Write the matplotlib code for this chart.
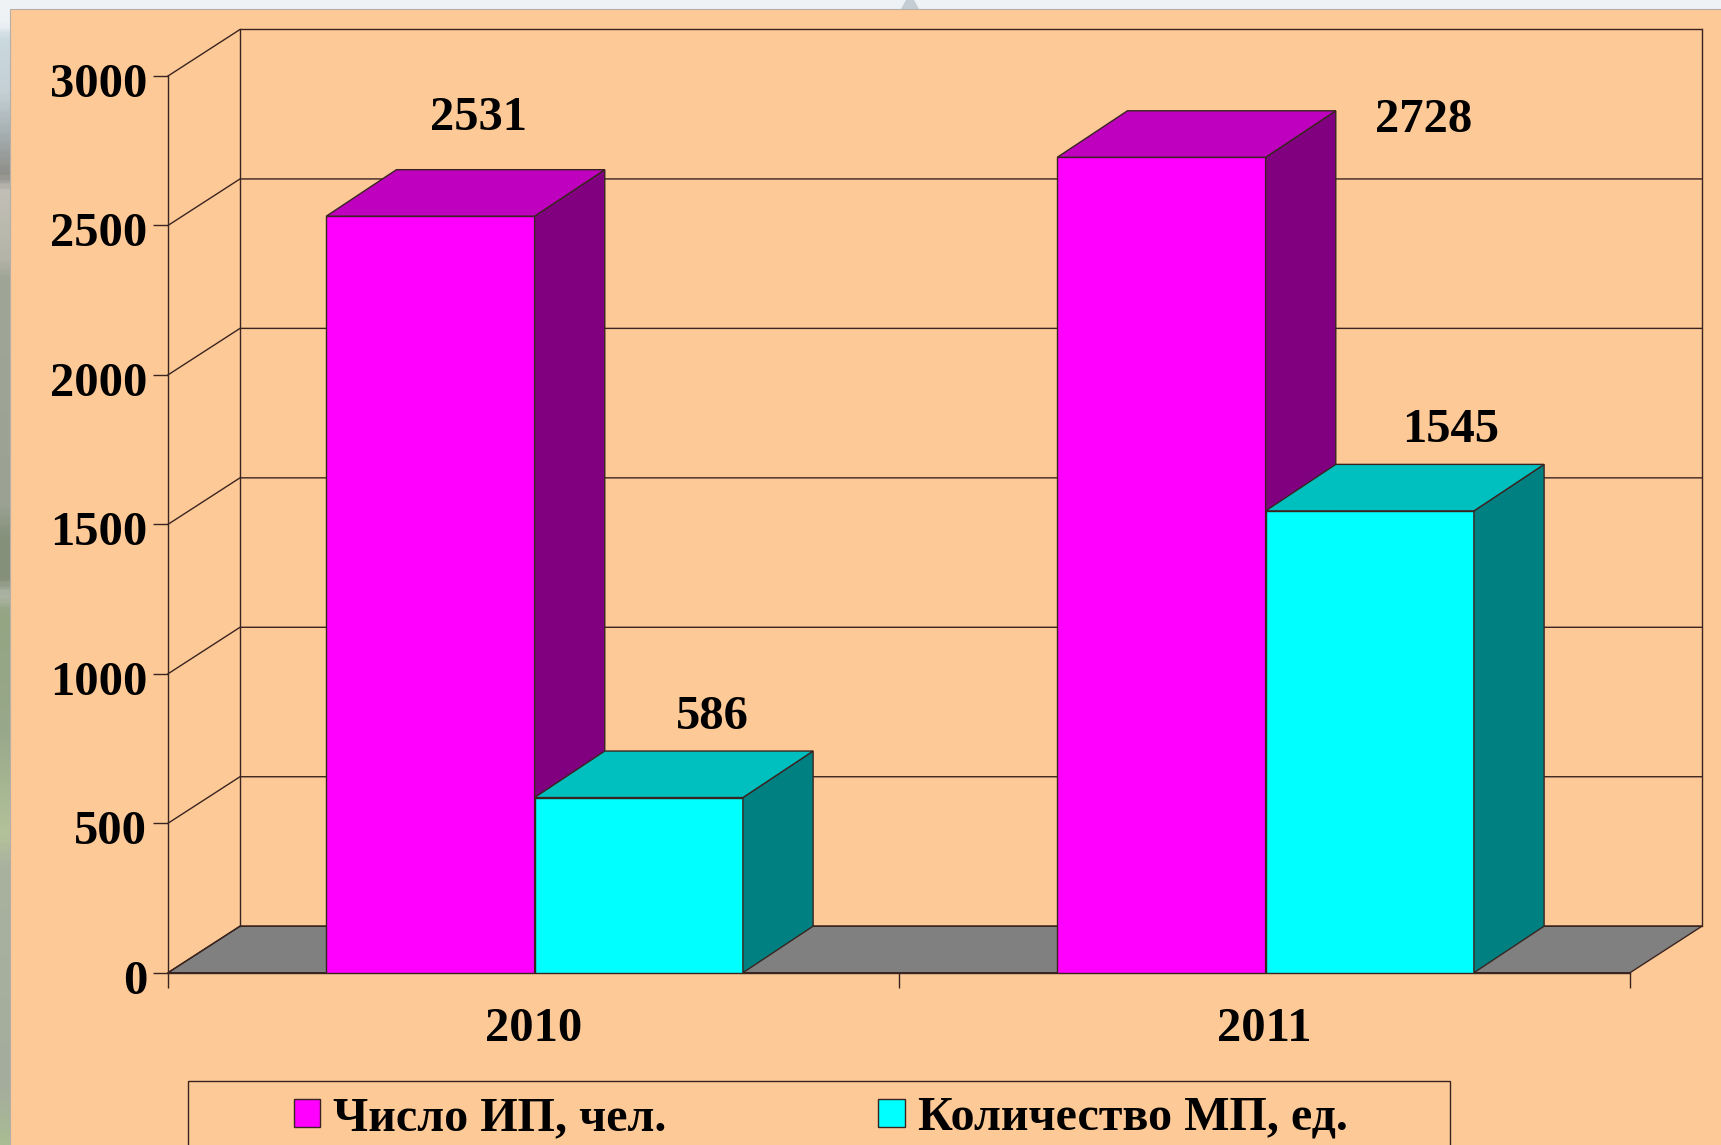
import matplotlib
matplotlib.use('Agg')
import numpy as np
import matplotlib.pyplot as plt
from matplotlib.colors import LinearSegmentedColormap
from matplotlib.patches import Polygon, Rectangle, Patch
from matplotlib.transforms import ScaledTranslation

# dados do grafico
years = ['2010', '2011']
ip_values = [2531, 2728]
mp_values = [586, 1545]
series_names = ['Число ИП, чел.', 'Количество МП, ед.']
y_ticks = [0, 500, 1000, 1500, 2000, 2500, 3000]

W, H = 1721, 1145
panel_color = '#FDC997'
line_color = '#3A2420'
font = ['Liberation Serif', 'DejaVu Serif']

# profundidade do efeito 3D, em unidades de dados
depth_x = 0.0985
depth_y = 155.6
bar_depth_x = 0.096
bar_w = 0.285

plt.rcParams['font.family'] = font
plt.rcParams['font.weight'] = 'bold'

fig = plt.figure(figsize=(W / 100, H / 100), dpi=100)

# fundo: faixa da foto na esquerda e painel laranja
bg = fig.add_axes([0, 0, 1, 1])
bg.set_xlim(0, W)
bg.set_ylim(H, 0)
bg.axis('off')
bg.add_patch(Rectangle((0, 0), W, H, facecolor='#EEF2F5', edgecolor='none'))
strip_stops = [(0.0, '#EEF2F5'), (0.018, '#EEF2F5'), (0.03, '#CBD9E0'), (0.08, '#C3CFD4'), (0.115, '#A5AEB0'),
               (0.15, '#8E8E88'), (0.165, '#C2C0B6'), (0.225, '#B4B4A8'), (0.24, '#A0A697'), (0.44, '#9BA294'),
               (0.47, '#84907A'), (0.505, '#84907A'), (0.52, '#B0B6A8'), (0.535, '#93A583'), (0.64, '#98A88A'),
               (0.73, '#B3C29A'), (0.76, '#A9B19F'), (0.95, '#A4AC9D'), (1.0, '#A9BC94')]
strip = LinearSegmentedColormap.from_list('strip', strip_stops)
bg.imshow(np.linspace(0, 1, 400).reshape(-1, 1), cmap=strip, extent=(0, 10, H, 0), aspect='auto', zorder=1)
bg.set_xlim(0, W)
bg.set_ylim(H, 0)
bg.add_patch(Polygon([(901, 9), (906, 0), (914, 0), (919, 9)], closed=True, facecolor='#C4CCD4',
                     edgecolor='none', zorder=1))
bg.add_patch(Rectangle((10, 9), W, H, facecolor=panel_color, edgecolor='#B5AFA8', linewidth=0.8, zorder=2))

# eixo principal: plano frontal do grafico
left, right, base, top = 168, 1630, 972.7, 76
ax = fig.add_axes([left / W, 1 - base / H, (right - left) / W, (base - top) / H])
ax.patch.set_alpha(0)
ax.set_xlim(0, 2)
ax.set_ylim(0, 3000)
for s in ['top', 'right']:
    ax.spines[s].set_visible(False)
for s in ['left', 'bottom']:
    ax.spines[s].set_color(line_color)
    ax.spines[s].set_linewidth(1.0)
ax.set_yticks(y_ticks)
ax.set_yticklabels([str(v) for v in y_ticks], fontsize=35, fontweight='bold', color='black')
ax.set_xticks([0, 1, 2])
ax.set_xticklabels([])
ax.set_xticks([0.5, 1.5], minor=True)
ax.set_xticklabels(years, minor=True, fontsize=35, fontweight='bold', color='black')
ax.tick_params(axis='y', length=11, width=1.0, color=line_color, pad=4)
ax.tick_params(axis='x', which='major', length=11, width=1.0, color=line_color)
ax.tick_params(axis='x', which='minor', length=0, pad=25)
# os numeros ficam um pouco abaixo do traco
for tick in ax.yaxis.get_major_ticks():
    lab = tick.label1
    lab.set_transform(lab.get_transform() + ScaledTranslation(0, -4 / 100, fig.dpi_scale_trans))


def shape(pts, color, z):
    ax.add_patch(Polygon(pts, closed=True, facecolor=color, edgecolor=line_color, linewidth=1.0,
                         zorder=z, clip_on=False))


def wall_line(xs, ys):
    ax.plot(xs, ys, color=line_color, lw=1.0, zorder=1, clip_on=False)


# chao e paredes
shape([(0, 0), (2, 0), (2 + depth_x, depth_y), (depth_x, depth_y)], '#808080', 1)
for v in y_ticks:
    wall_line([0, depth_x, 2 + depth_x], [v, v + depth_y, v + depth_y])
wall_line([depth_x, depth_x], [depth_y, 3000 + depth_y])
wall_line([2 + depth_x, 2 + depth_x], [depth_y, 3000 + depth_y])


def bar3d(x, value, front, side, roof, z):
    ax.bar(x, value, width=bar_w, align='edge', color=front, edgecolor=line_color, linewidth=1.0, zorder=z)
    shape([(x + bar_w, 0), (x + bar_w + bar_depth_x, depth_y), (x + bar_w + bar_depth_x, value + depth_y),
           (x + bar_w, value)], side, z)
    shape([(x, value), (x + bar_w, value), (x + bar_w + bar_depth_x, value + depth_y),
           (x + bar_depth_x, value + depth_y)], roof, z)


for i in range(len(years)):
    center = i + 0.5015
    bar3d(center - bar_w, ip_values[i], '#FF00FF', '#800080', '#BF00BF', 3 + i * 2)
    bar3d(center, mp_values[i], '#00FFFF', '#008080', '#00BFBF', 4 + i * 2)

# rotulos de valor
label_pos = [(0.425, 2860), (0.745, 857), (1.717, 2853), (1.755, 1817)]
label_vals = [ip_values[0], mp_values[0], ip_values[1], mp_values[1]]
for (lx, ly), v in zip(label_pos, label_vals):
    ax.text(lx, ly, str(v), ha='center', va='center', fontsize=35, fontweight='bold', color='black', zorder=10)

# legenda: a moldura passa da borda inferior da figura
bg.add_patch(Rectangle((188, 1081), 1262, 100, facecolor='none', edgecolor=line_color, linewidth=1.0, zorder=3))
handles = [Patch(facecolor='#FF00FF', edgecolor=line_color), Patch(facecolor='#00FFFF', edgecolor=line_color)]
fig.legend(handles, series_names, loc='center left', bbox_to_anchor=(294 / W, 1 - 1118 / H), ncol=2,
           frameon=False, borderaxespad=0, borderpad=0, fontsize=34.6, handlelength=0.55, handleheight=0.5,
           handletextpad=0.27, columnspacing=4.4)

fig.savefig('out.png', dpi=100)
